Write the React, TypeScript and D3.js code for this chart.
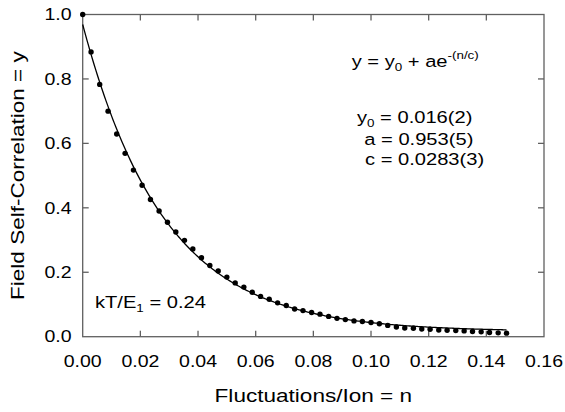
import { useEffect, useRef } from 'react';
import * as d3 from 'd3';

// measured points (n, y)
const nVals = [
  0.0000, 0.0029, 0.0059, 0.0088, 0.0118, 0.0147, 0.0176, 0.0206, 0.0235, 0.0265,
  0.0294, 0.0323, 0.0353, 0.0382, 0.0412, 0.0441, 0.0470, 0.0500, 0.0529, 0.0559,
  0.0588, 0.0617, 0.0647, 0.0676, 0.0706, 0.0735, 0.0764, 0.0794, 0.0823, 0.0853,
  0.0882, 0.0911, 0.0941, 0.0970, 0.1000, 0.1029, 0.1058, 0.1088, 0.1117, 0.1147,
  0.1176, 0.1205, 0.1235, 0.1264, 0.1294, 0.1323, 0.1352, 0.1382, 0.1411, 0.1441,
  0.1470,
];
const yVals = [
  1.000, 0.884, 0.783, 0.700, 0.629, 0.569, 0.517, 0.470, 0.426, 0.390,
  0.355, 0.325, 0.299, 0.272, 0.245, 0.221, 0.204, 0.185, 0.167, 0.154,
  0.138, 0.125, 0.116, 0.105, 0.097, 0.086, 0.081, 0.075, 0.070, 0.063,
  0.057, 0.053, 0.049, 0.047, 0.044, 0.040, 0.035, 0.030, 0.027, 0.026,
  0.024, 0.023, 0.021, 0.020, 0.019, 0.018, 0.016, 0.015, 0.013, 0.012,
  0.011,
];

// fit parameters shown on the chart
const fitY0 = 0.016;
const fitA = 0.953;
const fitC = 0.0283;

const xTicks = [0, 0.02, 0.04, 0.06, 0.08, 0.10, 0.12, 0.14, 0.16];
const yTicks = [0, 0.2, 0.4, 0.6, 0.8, 1.0];

const FONT = '"Liberation Sans", Arial, sans-serif';
const SX = 1.22; // glyphs in the source are wider than Arial
const AXIS = '#606060';

export default function App() {
  const ref = useRef<SVGSVGElement>(null);

  useEffect(() => {
    const svg = d3.select(ref.current);
    svg.selectAll('*').remove();

    const left = 82.7, right = 544, top = 14.5, bottom = 336.7;
    const x = d3.scaleLinear().domain([0, 0.16]).range([left, right]);
    const y = d3.scaleLinear().domain([0, 1]).range([bottom, top]);

    const label = (g, px, py, size, anchor, rot = false) =>
      g.append('text')
        .attr('transform', `translate(${px},${py})${rot ? ' rotate(-90)' : ''} scale(${SX},1)`)
        .attr('font-family', FONT)
        .attr('font-size', size)
        .attr('text-anchor', anchor)
        .attr('fill', '#000');

    // frame
    svg.append('rect')
      .attr('x', left).attr('y', top)
      .attr('width', right - left).attr('height', bottom - top)
      .attr('fill', 'none').attr('stroke', AXIS).attr('stroke-width', 1.3);

    // ticks, all pointing inward
    const tk = 6;
    const tick = (x1, y1, x2, y2) =>
      svg.append('line').attr('x1', x1).attr('y1', y1).attr('x2', x2).attr('y2', y2)
        .attr('stroke', AXIS).attr('stroke-width', 1.3);
    xTicks.slice(1, -1).forEach(t => {
      tick(x(t), bottom, x(t), bottom - tk);
      tick(x(t), top, x(t), top + tk);
    });
    yTicks.slice(1, -1).forEach(t => {
      tick(left, y(t), left + tk, y(t));
      tick(right, y(t), right - tk, y(t));
    });

    // tick labels
    xTicks.forEach(t => label(svg, x(t), 366.5, 16, 'middle').text(d3.format('.2f')(t)));
    yTicks.forEach(t => label(svg, 71.5, y(t) + 5.7, 16, 'end').text(d3.format('.1f')(t)));

    // axis titles
    label(svg, (left + right) / 2, 401.5, 18.5, 'middle').text('Fluctuations/Ion = n');
    label(svg, 24, (top + bottom) / 2, 18.5, 'middle', true).text('Field Self-Correlation = y');

    // fit curve
    const nFit = d3.range(0, nVals[nVals.length - 1] + 0.0005, 0.0005);
    const line = d3.line<number>().x(n => x(n)).y(n => y(fitY0 + fitA * Math.exp(-n / fitC)));
    svg.append('path').datum(nFit).attr('d', line)
      .attr('fill', 'none').attr('stroke', '#000').attr('stroke-width', 1.3);

    // data points
    svg.append('g').selectAll('circle')
      .data(nVals.map((n, i) => [n, yVals[i]]))
      .enter().append('circle')
      .attr('cx', d => x(d[0])).attr('cy', d => y(d[1])).attr('r', 2.7)
      .attr('fill', '#000');

    // equation
    const eq = label(svg, 351.7, 67, 16.5, 'start');
    eq.append('tspan').text('y = y');
    eq.append('tspan').attr('font-size', 11).attr('dy', 4).text('0');
    eq.append('tspan').attr('dy', -4).text(' + ae');
    eq.append('tspan').attr('font-size', 11).attr('dy', -8).text('-(n/c)');

    const p1 = label(svg, 357, 122.5, 16.5, 'start');
    p1.append('tspan').text('y');
    p1.append('tspan').attr('font-size', 11).attr('dy', 4).text('0');
    p1.append('tspan').attr('dy', -4).text(` = ${fitY0.toFixed(3)}(2)`);
    label(svg, 364.3, 144.5, 16.5, 'start').text(`a = ${fitA.toFixed(3)}(5)`);
    label(svg, 365, 165, 16.5, 'start').text(`c = ${fitC.toFixed(4)}(3)`);

    const kt = label(svg, 95, 308, 16.5, 'start');
    kt.append('tspan').text('kT/E');
    kt.append('tspan').attr('font-size', 11).attr('dy', 4).text('1');
    kt.append('tspan').attr('dy', -4).text(' = 0.24');
  }, []);

  return (
    <svg ref={ref} width={565} height={412}
      style={{ position: 'absolute', left: 0, top: 0, background: '#fff' }} />
  );
}
